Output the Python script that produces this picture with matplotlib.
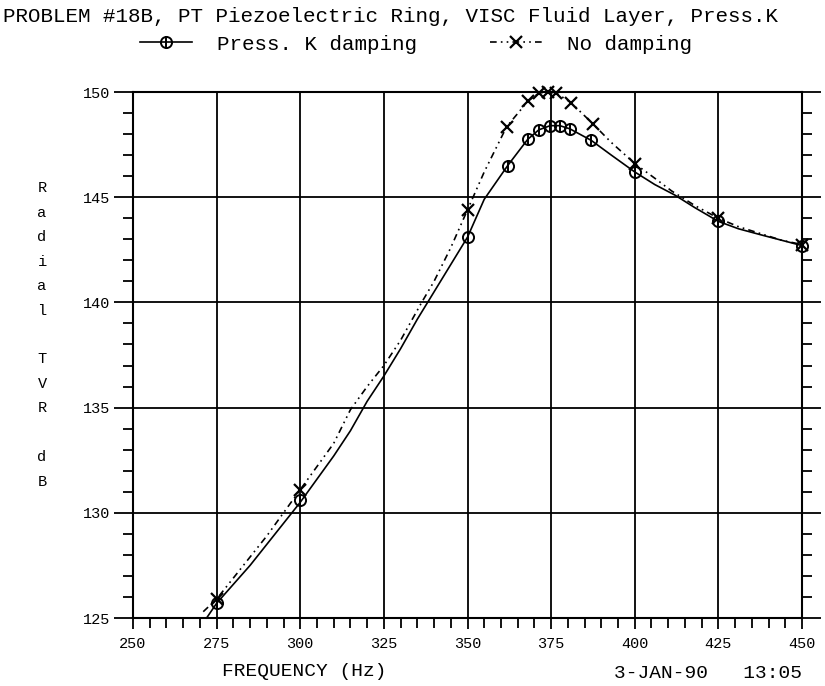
import matplotlib
matplotlib.use('Agg')
import matplotlib.pyplot as plt
from matplotlib.lines import Line2D
from matplotlib.legend_handler import HandlerTuple
from matplotlib.ticker import MultipleLocator

plt.rcParams['font.family'] = ['Liberation Mono', 'DejaVu Sans Mono']

# Press. K damping curve (solid)
freq_k = [272, 275, 280, 285, 290, 295, 300, 305, 310, 315, 320, 325, 330, 335, 340,
          345, 350, 355, 362, 368, 371.3, 374.7, 377.6, 380.6, 387, 393, 400, 406,
          412, 418, 425, 431, 438, 444, 450]
tvr_k = [125.0, 125.7, 126.6, 127.5, 128.5, 129.5, 130.5, 131.6, 132.7, 133.9, 135.3,
         136.5, 137.8, 139.2, 140.5, 141.8, 143.1, 144.9, 146.5, 147.75, 148.2, 148.4,
         148.4, 148.25, 147.7, 147.0, 146.2, 145.6, 145.1, 144.5, 143.85, 143.5, 143.2,
         142.95, 142.7]
mark_f_k = [275, 300, 350, 362, 368, 371.3, 374.7, 377.6, 380.6, 387, 400, 425, 450]
mark_v_k = [125.7, 130.6, 143.1, 146.5, 147.75, 148.2, 148.4, 148.4, 148.25, 147.7,
            146.2, 143.85, 142.7]

# No damping curve (dotted)
freq_n = [271, 275, 280, 285, 290, 295, 300, 305, 310, 315, 320, 325, 330, 336.3, 340,
          345, 350, 355, 361.7, 368, 371.3, 374, 376.5, 380.9, 387.4, 393, 400, 406,
          411, 418, 425, 431, 438, 444, 450]
tvr_n = [125.3, 125.9, 126.9, 127.9, 128.9, 130.0, 131.1, 132.2, 133.3, 134.9, 136.0,
         137.0, 138.2, 140.0, 141.0, 142.6, 144.4, 146.2, 148.35, 149.55, 149.95, 150.0,
         149.95, 149.5, 148.5, 147.6, 146.6, 145.9, 145.3, 144.6, 144.0, 143.6, 143.25,
         142.95, 142.75]
mark_f_n = [275, 300, 350, 361.7, 368, 371.3, 374, 376.5, 380.9, 387.4, 400, 425, 450]
mark_v_n = [125.9, 131.1, 144.4, 148.35, 149.55, 149.95, 150.0, 149.95, 149.5, 148.5,
            146.6, 144.0, 142.75]

x_ticks = [250, 275, 300, 325, 350, 375, 400, 425, 450]
y_ticks = [125, 130, 135, 140, 145, 150]

W, H = 825, 686
fig = plt.figure(figsize=(W / 100, H / 100), dpi=100)
ax = fig.add_axes([133 / W, 1 - 618 / H, (802 - 133) / W, (618 - 92) / H])

dot_style = (0, (4, 2.5, 1, 2.5, 1, 2.5))
ax.plot(freq_k, tvr_k, color='black', lw=1.2, clip_on=False)
ax.plot(freq_n, tvr_n, color='black', lw=1.2, linestyle=dot_style, clip_on=False)
ax.plot(mark_f_k, mark_v_k, linestyle='', marker='o', ms=8, mfc='none', mec='black',
        mew=1.4, clip_on=False)
ax.plot(mark_f_k, mark_v_k, linestyle='', marker='|', ms=8, mec='black', mew=1.4,
        clip_on=False)
ax.plot(mark_f_n, mark_v_n, linestyle='', marker='x', ms=9, mec='black', mew=1.6,
        clip_on=False)

ax.set_xlim(250, 450)
ax.set_ylim(125, 150)
ax.set_xticks(x_ticks)
ax.set_yticks(y_ticks)
ax.xaxis.set_minor_locator(MultipleLocator(5))
ax.yaxis.set_minor_locator(MultipleLocator(1))
ax.grid(True, which='major', color='black', lw=1.3)
for s in ax.spines.values():
    s.set_linewidth(1.5)

ax.tick_params(axis='y', which='major', direction='out', length=14, width=1.3,
               left=True, right=True, labelsize=11, pad=2)
ax.tick_params(axis='y', which='minor', direction='out', length=7, width=1.3,
               left=True, right=True)
ax.tick_params(axis='x', which='major', direction='out', length=8, width=1.3,
               bottom=True, top=False, labelsize=11, pad=6)
ax.tick_params(axis='x', which='minor', direction='out', length=7, width=1.3,
               bottom=True, top=False)

fig.text(3 / W, 1 - 17 / H,
         'PROBLEM #18B, PT Piezoelectric Ring, VISC Fluid Layer, Press.K',
         fontsize=15, ha='left', va='center')

h_k = (Line2D([], [], color='black', lw=1.2, marker='o', ms=8, mfc='none', mec='black',
              mew=1.4),
       Line2D([], [], color='black', linestyle='', marker='|', ms=8, mew=1.4))
h_n = Line2D([], [], color='black', lw=1.2, linestyle=dot_style, marker='x', ms=9,
             mew=1.6)
fig.legend([h_k, h_n], ['Press. K damping', 'No damping'], ncol=2, frameon=False,
           loc='center left', bbox_to_anchor=(140 / W, 1 - 44 / H), fontsize=15,
           handlelength=2.5, handletextpad=1.2, columnspacing=3.5, borderpad=0,
           borderaxespad=0, handler_map={tuple: HandlerTuple(ndivide=1)})

fig.text(42 / W, 1 - 335 / H, 'R\na\nd\ni\na\nl\n\nT\nV\nR\n\nd\nB',
         fontsize=11, ha='center', va='center', linespacing=1.95)

fig.text(304 / W, 1 - 671 / H, 'FREQUENCY (Hz)', fontsize=14, ha='center', va='center')
fig.text(802 / W, 1 - 673 / H, '3-JAN-90   13:05', fontsize=14, ha='right', va='center')

fig.savefig('out.png', dpi=100)
